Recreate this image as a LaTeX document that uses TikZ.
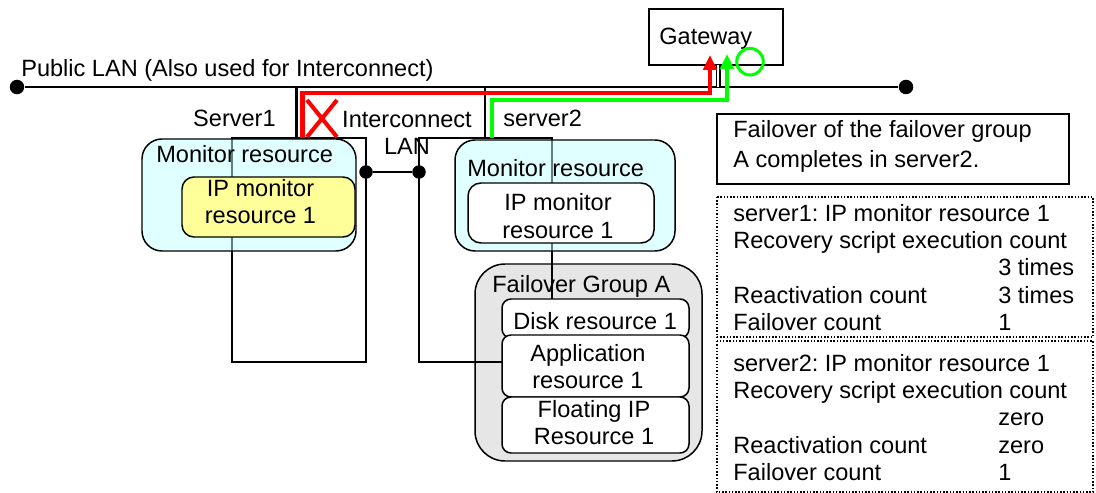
\documentclass[tikz,border=0pt]{standalone}
\usepackage{fontspec}
\setmainfont{Liberation Sans}
\usetikzlibrary{arrows.meta}
\definecolor{moncyan}{RGB}{193,255,255}
\definecolor{ipyellow}{RGB}{255,255,153}
\definecolor{grpgray}{RGB}{230,230,230}
\definecolor{okgreen}{RGB}{0,255,0}
\frenchspacing
\begin{document}
\begin{tikzpicture}[x=0.02cm, y=-0.02cm, >={Triangle[width=0.27cm, length=0.3cm]},
  txt/.style={font=\fontsize{13.4}{15.5}\selectfont, inner sep=0pt},
  thinline/.style={line width=0.85pt},
  lan/.style={line width=1.7pt},
  route/.style={line width=2.3pt},
  landot/.style={circle, fill=black, inner sep=0pt, minimum size=0.29cm}]
  \useasboundingbox (0,0) rectangle (1096,493);

  % Public LAN
  \node[landot] (lanL) at (17,87) {};
  \node[landot] (lanR) at (906,87) {};
  \draw[lan] (lanL) -- (lanR);
  \node[txt, anchor=base west] (lanlbl) at (21,77) {Public LAN (Also used for Interconnect)};

  % Gateway
  \draw[thinline, fill=white] (649,9) rectangle (783,65);
  \node[txt, anchor=base west] (gw) at (659,44.5) {Gateway};
  \coordinate (gwfoot) at (718.3,65);
  \coordinate (gwlan) at (718.3,87);
  \draw[line width=0.8pt, double, double distance=1.1pt] (gwfoot) -- (gwlan);

  % Uplinks of the servers
  \coordinate (s1lan) at (296.5,87);
  \coordinate (s1top) at (296.5,138);
  \coordinate (s2lan) at (485,87);
  \coordinate (s2top) at (485,138);
  \draw[lan] (s1lan) -- (s1top);
  \draw[lan] (s2lan) -- (s2top);

  % Failover group (drawn below the server outlines)
  \draw[thinline, fill=grpgray, rounded corners=0.6cm] (475,264) rectangle (702,461);

  % Server outlines
  \draw[thinline] (232,138) rectangle (366,362);
  \draw[thinline] (419,138) rectangle (552,362);

  % Monitor resources
  \draw[thinline, fill=moncyan, fill opacity=0.5, rounded corners=0.4cm] (142,139) rectangle (356,251);
  \draw[thinline, fill=moncyan, fill opacity=0.5, rounded corners=0.4cm] (455,140) rectangle (675,251);
  \draw[thinline, fill=ipyellow, rounded corners=0.24cm] (182,177) rectangle (355,237);
  \draw[thinline, fill=white, rounded corners=0.26cm] (468,183) rectangle (654,243);
  \node[txt, anchor=base west] (mon1) at (156,162.5) {Monitor resource};
  \node[txt, anchor=base west] (mon2) at (467,176.5) {Monitor resource};
  \node[txt, align=center] (ipmon1) at (260.5,201.7) {IP monitor\\resource 1};
  \node[txt, align=center] (ipmon2) at (558,216) {IP monitor\\resource 1};

  % Resources of the group
  \draw[thinline, fill=white, rounded corners=0.18cm] (502,299) rectangle (689,338);
  \draw[thinline, fill=white, rounded corners=0.18cm] (502,335) rectangle (689,397);
  \draw[thinline, fill=white, rounded corners=0.18cm] (502,397) rectangle (689,453);
  \node[txt, anchor=base west] (grp) at (492,292.5) {Failover Group A};
  \node[txt, anchor=base west] (disk) at (513,330) {Disk resource 1};
  \node[txt, align=center] (appl) at (588,366.7) {Application\\resource 1};
  \node[txt, align=center] (fip) at (594,422.5) {Floating IP\\Resource 1};

  % Interconnect LAN
  \node[landot, minimum size=0.27cm] (ic1) at (366,172) {};
  \node[landot, minimum size=0.27cm] (ic2) at (419,172) {};
  \draw[lan] (ic1) -- (ic2);
  \node[txt, align=center, anchor=north] (iclbl) at (407,111) {Interconnect\\LAN};

  % Server names
  \node[txt, anchor=base east] (srv1) at (276,127) {Server1};
  \node[txt, anchor=base west] (srv2) at (503,127) {server2};

  % Routes to the gateway
  \coordinate (redstart) at (302.5,138);
  \coordinate (redend) at (710,55);
  \coordinate (grnstart) at (492,138);
  \coordinate (grnend) at (727,54);
  \draw[route, red, ->] (redstart) |- (710,93.3) -- (redend);
  \draw[route, okgreen, ->] (grnstart) |- (727,100) -- (grnend);
  \draw[okgreen, line width=1.7pt] (750,61.7) circle[radius=0.266cm];
  \draw[red, line width=2.3pt] (307,100) -- (337,137) (337,100) -- (307,137);

  % Notes
  \draw[thinline] (717,114) rectangle (1069,184);
  \node[txt, font=\fontsize{13.4}{16.7}\selectfont, align=left, anchor=north west] (note) at (733,120.5)
    {Failover of the failover group\\A completes in server2.};

  \draw[thinline, densely dotted] (717,197) rectangle (1093,337);
  \node[txt, align=left, anchor=north west] (cnt1) at (733,204)
    {server1: IP monitor resource 1\\
     Recovery script execution count\\
     \hspace*{5.3cm}3 times\\
     \makebox[5.3cm][l]{Reactivation count}3 times\\
     \makebox[5.3cm][l]{Failover count}1};

  \draw[thinline, densely dotted] (717,341) rectangle (1093,492);
  \node[txt, align=left, anchor=north west] (cnt2) at (733,354)
    {server2: IP monitor resource 1\\
     Recovery script execution count\\
     \hspace*{5.3cm}zero\\
     \makebox[5.3cm][l]{Reactivation count}zero\\
     \makebox[5.3cm][l]{Failover count}1};
\end{tikzpicture}
\end{document}
